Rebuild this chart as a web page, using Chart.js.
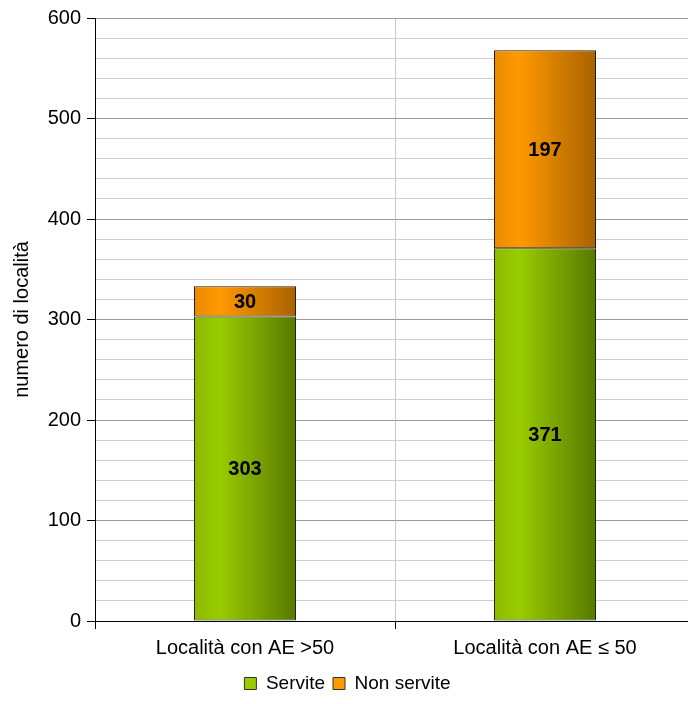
<!DOCTYPE html>
<html>
<head>
<meta charset="utf-8">
<script src="https://cdn.jsdelivr.net/npm/chart.js@4.4.1/dist/chart.umd.min.js"></script>
<style>
  html, body { margin: 0; padding: 0; background: #fff; overflow: hidden; }
  #wrap { width: 688px; height: 704px; overflow: hidden; }
  #box { width: 695px; height: 704px; }
</style>
</head>
<body>
<div id="wrap"><div id="box"><canvas id="chart"></canvas></div></div>
<script>
// Chart data
const categories = ['Località con AE >50', 'Località con AE ≤ 50'];
const servite = [303, 371];
const nonServite = [30, 197];
const seriesNames = ['Servite', 'Non servite'];

const FONT = 'Liberation Sans, Arial, sans-serif';
const BAR_PCT = 0.34;

// horizontal shaded fill, placed on the bar through the x scale
function barGradient(light, base, dark) {
  return function(context) {
    const chart = context.chart;
    const xs = chart.scales.x;
    if (!chart.chartArea || !xs || !xs.width) return base;
    const cx = xs.getPixelForValue(context.dataIndex);
    const half = (xs.width / categories.length) * BAR_PCT / 2;
    const g = chart.ctx.createLinearGradient(cx - half, 0, cx + half, 0);
    g.addColorStop(0, light);
    g.addColorStop(0.25, base);
    g.addColorStop(1, dark);
    return g;
  };
}

// values written in the middle of each segment
const valueLabels = {
  id: 'valueLabels',
  afterDatasetsDraw(chart) {
    const ctx = chart.ctx;
    ctx.save();
    ctx.font = 'bold 20px ' + FONT;
    ctx.fillStyle = '#000';
    ctx.textAlign = 'center';
    ctx.textBaseline = 'middle';
    chart.data.datasets.forEach((ds, i) => {
      chart.getDatasetMeta(i).data.forEach((bar, j) => {
        ctx.fillText(ds.data[j], bar.x, (bar.y + bar.base) / 2 + 1);
      });
    });
    ctx.restore();
  }
};

new Chart(document.getElementById('chart'), {
  type: 'bar',
  data: {
    labels: categories,
    datasets: [{
      label: seriesNames[0],
      data: servite,
      backgroundColor: barGradient('#8cba00', '#99cc00', '#587800'),
      borderColor: '#1e2a00',
      borderWidth: 1,
      borderSkipped: false,
      barPercentage: BAR_PCT,
      categoryPercentage: 1
    }, {
      label: seriesNames[1],
      data: nonServite,
      backgroundColor: barGradient('#e88c00', '#ff9900', '#a86200'),
      borderColor: '#2e1a00',
      borderWidth: 1,
      borderSkipped: false,
      barPercentage: BAR_PCT,
      categoryPercentage: 1
    }]
  },
  options: {
    responsive: true,
    maintainAspectRatio: false,
    animation: false,
    layout: { padding: { top: 7, left: 0, right: 0, bottom: 1 } },
    plugins: {
      tooltip: { enabled: false },
      legend: {
        position: 'bottom',
        labels: {
          color: '#000',
          font: { family: FONT, size: 19 },
          boxWidth: 12,
          boxHeight: 12,
          padding: 8,
          generateLabels: function() {
            return [
              { text: seriesNames[0], fillStyle: '#99cc00', strokeStyle: '#333', lineWidth: 1, datasetIndex: 0 },
              { text: seriesNames[1], fillStyle: '#ff9900', strokeStyle: '#333', lineWidth: 1, datasetIndex: 1 }
            ];
          }
        }
      }
    },
    scales: {
      x: {
        stacked: true,
        afterFit: function(scale) { scale.height = 45; },
        grid: {
          offset: true,
          color: '#c8c8c8',
          tickColor: '#000',
          tickLength: 8
        },
        border: { color: '#000', width: 1 },
        ticks: {
          color: '#000',
          font: { family: FONT, size: 20 },
          padding: 7
        }
      },
      y: {
        stacked: true,
        min: 0,
        max: 600,
        afterFit: function(scale) { scale.width = 95; },
        ticks: {
          stepSize: 20,
          autoSkip: false,
          color: '#000',
          font: { family: FONT, size: 20 },
          padding: 6,
          callback: v => (v % 100 === 0 ? v : '')
        },
        grid: {
          color: c => (c.tick && c.tick.value % 100 === 0 ? '#999' : '#cfcfcf'),
          tickColor: c => (c.tick && c.tick.value % 100 === 0 ? '#000' : 'rgba(0,0,0,0)'),
          tickLength: 8
        },
        border: { color: '#000', width: 1 },
        title: {
          display: true,
          text: 'numero di località',
          color: '#000',
          font: { family: FONT, size: 20 },
          padding: { top: 10, bottom: 0 }
        }
      }
    }
  },
  plugins: [valueLabels]
});
</script>
</body>
</html>
